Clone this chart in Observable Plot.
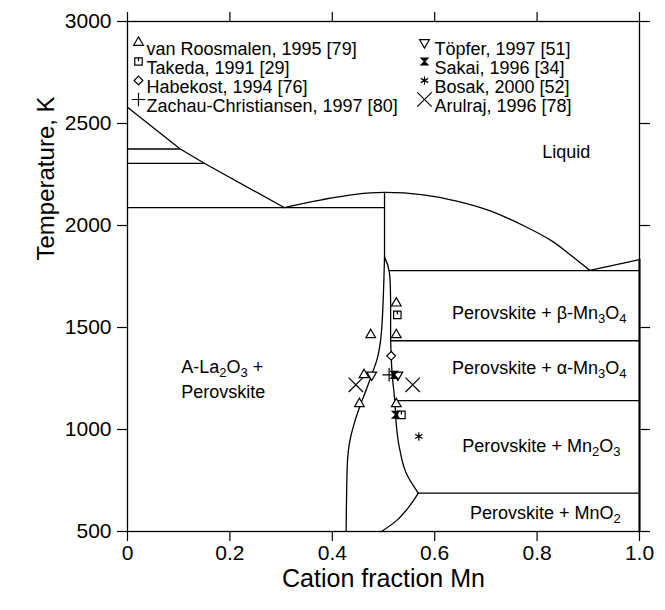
<!DOCTYPE html>
<html><head><meta charset="utf-8">
<script src="https://cdn.jsdelivr.net/npm/d3@7"></script>
<script src="https://cdn.jsdelivr.net/npm/@observablehq/plot@0.6"></script>
<style>
body{margin:0;background:#fff;}
#chart{width:665px;height:610px;}
</style></head><body><div id="chart"></div>
<script>
// ---------- data (cation fraction Mn, temperature K) ----------
const xTicks = [0, 0.2, 0.4, 0.6, 0.8, 1.0];
const yTicks = [500, 1000, 1500, 2000, 2500, 3000];

const liquidusLeft = [[0, 2580], [0.103, 2375], [0.150, 2305], [0.306, 2088]];
const liquidusDome = [[0.306, 2088], [0.379, 2126], [0.445, 2153], [0.502, 2162], [0.578, 2150], [0.645, 2118], [0.711, 2069], [0.777, 1995], [0.830, 1922], [0.864, 1858], [0.903, 1780]];
const liquidusRight = [[0.903, 1780], [1.0, 1833]];
const perovskiteLeft = [[0.502, 1845], [0.500, 1677], [0.497, 1513], [0.494, 1431], [0.488, 1350], [0.477, 1268], [0.465, 1186], [0.455, 1121], [0.442, 1023], [0.434, 941], [0.430, 859], [0.428, 696], [0.427, 500]];
const perovskiteRight = [[0.502, 1845], [0.511, 1779], [0.514, 1435], [0.515, 1361], [0.517, 1268], [0.522, 1142], [0.525, 1023], [0.530, 925], [0.543, 794], [0.568, 688]];
const perovskiteLower = [[0.568, 688], [0.550, 622], [0.527, 557], [0.496, 500]];
const congruentLine = [[0.502, 2162], [0.502, 1845]];
const isothermT = [2375, 2305, 2088, 1779, 1435, 1142, 688];
const isothermFrom = [0, 0, 0, 0.511, 0.514, 0.522, 0.568];
const isothermTo = [0.103, 0.150, 0.502, 1, 1, 1, 1];
const mnSideLine = [[1.0, 1833], [1.0, 500]];

const sourceNames = ["van Roosmalen, 1995 [79]", "Takeda, 1991 [29]", "Habekost, 1994 [76]", "Zachau-Christiansen, 1997 [80]",
                     "Töpfer, 1997 [51]", "Sakai, 1996 [34]", "Bosak, 2000 [52]", "Arulraj, 1996 [78]"];
const vanRoosmalen = [[0.525, 1619], [0.475, 1464], [0.525, 1464], [0.462, 1268], [0.453, 1126], [0.525, 1126]];
const takeda = [[0.527, 1562], [0.535, 1072]];
const habekost = [[0.515, 1361]];
const zachau = [[0.511, 1268]];
const topfer = [[0.477, 1268], [0.528, 1268]];
const sakai = [[0.521, 1268], [0.524, 1072]];
const bosak = [[0.569, 966]];
const arulraj = [[0.446, 1219], [0.557, 1219]];
const sourceData = [vanRoosmalen, takeda, habekost, zachau, topfer, sakai, bosak, arulraj];

const regionTexts = ["Liquid", "Perovskite + β-Mn_3O_4", "Perovskite + α-Mn_3O_4", "Perovskite + Mn_2O_3", "Perovskite + MnO_2", "A-La_2O_3 +", "Perovskite"];
const regionX = [0.81, 0.634, 0.634, 0.654, 0.669, 0.105, 0.105];
const regionT = [2360, 1570, 1300, 920, 590, 1306, 1184];

// ---------- symbols ----------
const sqrt3 = Math.sqrt(3);
const triangleDown = {draw(c, size) { const y = Math.sqrt(size / (sqrt3 * 3)); c.moveTo(0, 2 * y); c.lineTo(-sqrt3 * y, -y); c.lineTo(sqrt3 * y, -y); c.closePath(); }};
const hourglass = {draw(c, size) { const s = Math.sqrt(size) / 2; c.moveTo(-s, -s); c.lineTo(s, -s); c.lineTo(-s, s); c.lineTo(s, s); c.closePath(); }};
const squareTick = {draw(c, size) { const s = Math.sqrt(size) / 2; c.moveTo(-s, -s); c.lineTo(s, -s); c.lineTo(s, s); c.lineTo(-s, s); c.closePath(); c.moveTo(0, -s); c.lineTo(0, -s * 0.1); }};
const styles = [
  {symbol: "triangle", r: 3.6, fill: "white"},
  {symbol: squareTick, r: 4.2, fill: "white"},
  {symbol: "diamond2", r: 3.9, fill: "white"},
  {symbol: "plus", r: 4.4, fill: "none"},
  {symbol: triangleDown, r: 3.6, fill: "white"},
  {symbol: hourglass, r: 3.9, fill: "black"},
  {symbol: "asterisk", r: 4, fill: "none"},
  {symbol: "times", r: 6.6, fill: "none"}
];

// ---------- marks ----------
const X = d => d[0], T = d => d[1];
const lineStyle = {stroke: "black", strokeWidth: 1.3};
const marks = [];
marks.push(Plot.line(liquidusLeft, {x: X, y: T, ...lineStyle}));
marks.push(Plot.line(liquidusDome, {x: X, y: T, curve: "catmull-rom", ...lineStyle}));
marks.push(Plot.line(liquidusRight, {x: X, y: T, ...lineStyle}));
marks.push(Plot.line(perovskiteLeft, {x: X, y: T, curve: "catmull-rom", ...lineStyle}));
marks.push(Plot.line(perovskiteRight, {x: X, y: T, curve: "catmull-rom", ...lineStyle}));
marks.push(Plot.line(perovskiteLower, {x: X, y: T, curve: "catmull-rom", ...lineStyle}));
marks.push(Plot.line(congruentLine, {x: X, y: T, ...lineStyle}));
marks.push(Plot.line(mnSideLine, {x: X, y: T, stroke: "black", strokeWidth: 2}));
marks.push(Plot.ruleY(isothermT.map((t, i) => i), {y: i => isothermT[i], x1: i => isothermFrom[i], x2: i => isothermTo[i], ...lineStyle}));

sourceData.forEach((pts, i) => {
  const st = styles[i];
  marks.push(Plot.dot(pts, {x: X, y: T, symbol: st.symbol, r: st.r, fill: st.fill, stroke: "black", strokeWidth: 1.2}));
});

// legend (inside the frame, top-left)
sourceNames.forEach((name, i) => {
  const st = styles[i], col = i < 4 ? 0 : 1, row = i % 4;
  const dy = 21 + row * 19;
  marks.push(Plot.dot([name], {frameAnchor: "top-left", dx: col ? 297 : 11, dy, symbol: st.symbol, r: st.r, fill: st.fill, stroke: "black", strokeWidth: 1.2}));
  marks.push(Plot.text([name], {frameAnchor: "top-left", dx: col ? 307 : 19, dy, text: d => d, textAnchor: "start", fontSize: 18, fill: "black"}));
});

// region labels
marks.push(Plot.text(regionTexts.map((t, i) => i), {x: i => regionX[i], y: i => regionT[i], text: i => regionTexts[i], textAnchor: "start", fontSize: 18, fill: "black"}));

// axes
marks.push(Plot.frame({stroke: "black", strokeWidth: 1.3}));
marks.push(Plot.axisX({ticks: xTicks, tickSize: 10, tickPadding: 4, tickFormat: d => d === 0 ? "0" : d.toFixed(1), fontSize: 21, label: null, strokeWidth: 1.2}));
marks.push(Plot.axisX({anchor: "top", ticks: xTicks, tickSize: 10, fill: "none", label: null, strokeWidth: 1.2}));
marks.push(Plot.axisY({ticks: yTicks, tickSize: 10, tickPadding: 6, tickFormat: "d", fontSize: 21, label: null, strokeWidth: 1.2}));
marks.push(Plot.axisY({anchor: "right", ticks: yTicks, tickSize: 10, fill: "none", label: null, strokeWidth: 1.2}));
marks.push(Plot.text(["Temperature, K"], {frameAnchor: "left", dx: -81, dy: -16, rotate: -90, text: d => d, fontSize: 24, fill: "black"}));
marks.push(Plot.text(["Cation fraction Mn"], {frameAnchor: "bottom", dy: 55, text: d => d, fontSize: 25, fill: "black"}));

const chart = Plot.plot({
  width: 665, height: 610,
  marginLeft: 127, marginRight: 26, marginTop: 21, marginBottom: 79,
  x: {domain: [0, 1]},
  y: {domain: [500, 3000]},
  style: {fontFamily: "'Liberation Sans', Arial, Helvetica, sans-serif", fontSize: "18px", background: "white", color: "black"},
  marks
});

// subscripts: "_d" -> subscript digit
d3.select(chart).selectAll("text").each(function () {
  const s = this.textContent;
  if (!s.includes("_")) return;
  const el = d3.select(this);
  el.text(null);
  const parts = s.split(/_(\d)/);
  let shifted = false;
  parts.forEach((p, i) => {
    if (!p) return;
    if (i % 2 === 1) {
      el.append("tspan").attr("dy", shifted ? 0 : 4).attr("font-size", 13).text(p);
      shifted = true;
    } else {
      el.append("tspan").attr("dy", shifted ? -4 : 0).text(p);
      shifted = false;
    }
  });
});

document.getElementById("chart").appendChild(chart);
</script></body></html>
